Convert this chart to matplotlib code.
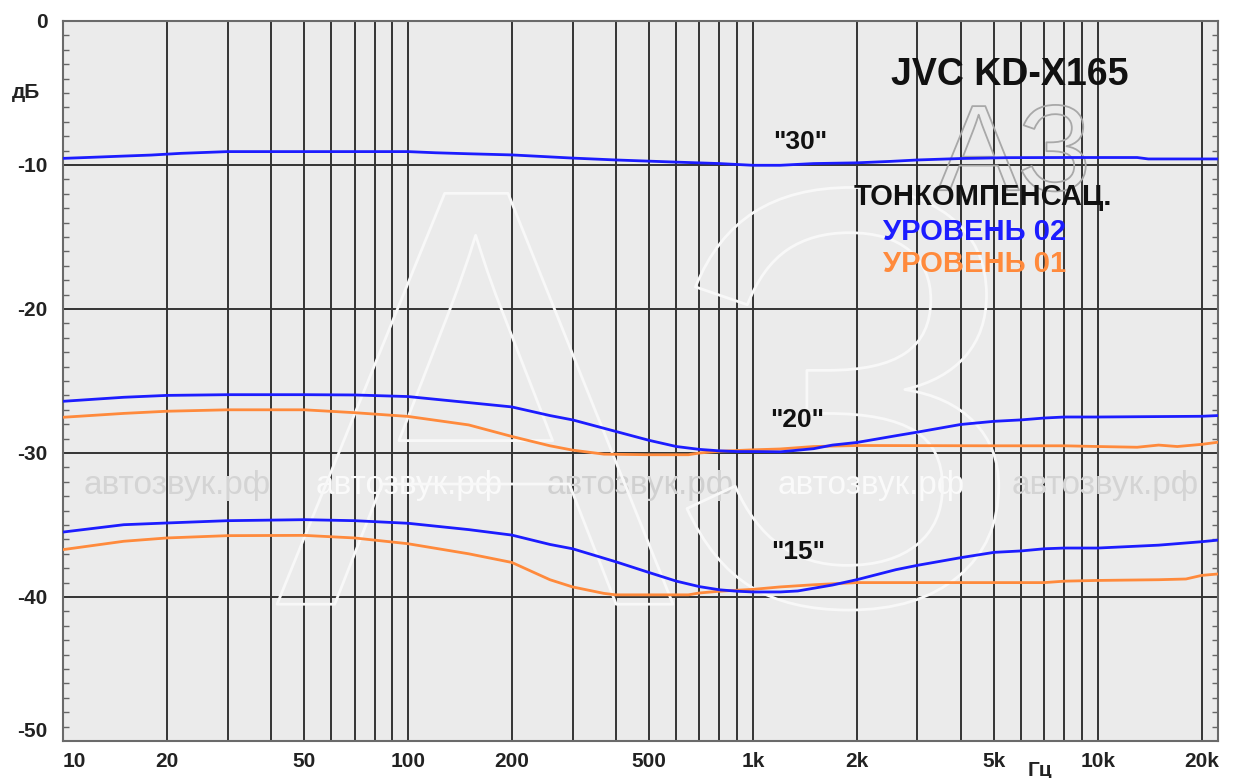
import numpy as np
import matplotlib
matplotlib.use('Agg')
import matplotlib.pyplot as plt
import matplotlib.patheffects as pe
from matplotlib.ticker import FixedLocator, NullFormatter

plt.rcParams['font.family'] = ['Liberation Sans', 'DejaVu Sans']

# --- data (Hz, dB) ---
f30_b = [10, 12, 15, 18, 22, 30, 60, 100, 120, 150, 200, 250, 300, 400, 600, 800,
         1000, 1200, 1500, 2000, 2500, 3000, 4000, 5500, 8000, 13000, 14000, 22300]
db30_b = [-9.54, -9.47, -9.38, -9.31, -9.19, -9.07, -9.07, -9.07, -9.15, -9.22, -9.3, -9.42,
          -9.52, -9.65, -9.8, -9.9, -10.02, -10.02, -9.9, -9.85, -9.75, -9.65, -9.55, -9.49,
          -9.48, -9.48, -9.58, -9.58]

f20_b = [10, 15, 20, 30, 50, 70, 100, 150, 200, 258, 300, 400, 500, 600, 700, 800, 900,
         1000, 1200, 1500, 1700, 2000, 2600, 3000, 4000, 5000, 6000, 7000, 8000, 10000,
         20000, 22300]
db20_b = [-26.41, -26.13, -26.0, -25.95, -25.95, -25.97, -26.08, -26.5, -26.8, -27.4, -27.7,
          -28.5, -29.12, -29.55, -29.75, -29.85, -29.9, -29.9, -29.92, -29.7, -29.45, -29.27,
          -28.8, -28.55, -28.02, -27.8, -27.7, -27.57, -27.5, -27.5, -27.45, -27.4]

f20_o = [10, 15, 20, 30, 50, 70, 100, 150, 200, 258, 300, 370, 500, 650, 700, 800, 1000,
         1200, 1500, 2000, 5000, 8000, 10000, 13000, 15000, 17000, 20000, 22300]
db20_o = [-27.52, -27.25, -27.1, -27.0, -27.0, -27.2, -27.46, -28.05, -28.85, -29.5, -29.8,
          -30.08, -30.12, -30.12, -30.0, -29.88, -29.78, -29.72, -29.55, -29.48, -29.5, -29.5,
          -29.55, -29.6, -29.45, -29.55, -29.4, -29.25]

f15_b = [10, 15, 20, 30, 50, 70, 100, 150, 200, 258, 300, 400, 500, 600, 700, 800, 900,
         1000, 1200, 1350, 1700, 2000, 2600, 3000, 4000, 5000, 6000, 7000, 8000, 10000,
         15000, 20000, 22300]
db15_b = [-35.49, -34.98, -34.86, -34.7, -34.63, -34.7, -34.88, -35.32, -35.7, -36.35, -36.65,
          -37.55, -38.3, -38.9, -39.28, -39.5, -39.6, -39.65, -39.65, -39.58, -39.17, -38.8,
          -38.1, -37.8, -37.27, -36.9, -36.8, -36.65, -36.6, -36.6, -36.4, -36.16, -36.05]

f15_o = [10, 15, 20, 30, 50, 70, 100, 150, 200, 258, 300, 370, 400, 650, 700, 800, 900, 1000,
         1200, 1500, 2000, 7000, 8000, 10000, 15000, 18000, 20000, 22300]
db15_o = [-36.71, -36.13, -35.9, -35.74, -35.72, -35.9, -36.3, -37.0, -37.6, -38.8, -39.3,
          -39.75, -39.85, -39.85, -39.72, -39.6, -39.53, -39.47, -39.3, -39.15, -39.0, -39.0,
          -38.9, -38.85, -38.8, -38.75, -38.5, -38.4]

x_labels_f = [10, 20, 50, 100, 200, 500, 1000, 2000, 5000, 10000, 20000]
x_labels = ['10', '20', '50', '100', '200', '500', '1k', '2k', '5k', '10k', '20k']
grid_f = [20, 30, 40, 50, 60, 70, 80, 90, 100, 200, 300, 400, 500, 600, 700, 800, 900,
          1000, 2000, 3000, 4000, 5000, 6000, 7000, 8000, 9000, 10000, 20000]
y_major = [0, -10, -20, -30, -40, -50]

W, H = 1237, 778
fig = plt.figure(figsize=(W / 100, H / 100), dpi=100)
ax = fig.add_axes([63 / W, 1 - 741 / H, (1218 - 63) / W, (741 - 21) / H])
ax.set_facecolor('#ebebeb')

ax.set_xscale('log')
ax.set_xlim(10, 22300)
ax.set_ylim(-50, 0)

# grid
for f in grid_f:
    ax.axvline(f, color='#333333', lw=1.4, zorder=1)
for y in [-10, -20, -30, -40]:
    ax.axhline(y, color='#333333', lw=1.4, zorder=1)

# watermark
for xf, c in zip([0.099, 0.30, 0.50, 0.70, 0.902],
                 ['#d4d4d4', '#fafafa', '#d0d0d0', '#fafafa', '#d4d4d4']):
    ax.text(xf, 0.355, 'автозвук.рф', transform=ax.transAxes, ha='center', va='center',
            fontsize=24, color=c, zorder=1.5)
big = ax.text(0.51, 0.19, 'АЗ', transform=ax.transAxes, ha='center', va='baseline',
              fontsize=430, color='none', zorder=1.6)
big.set_path_effects([pe.Stroke(linewidth=2, foreground='#f8f8f8')])
small = ax.text(0.824, 0.765, 'АЗ', transform=ax.transAxes, ha='center', va='baseline',
                fontsize=88, color='none', zorder=1.6)
small.set_path_effects([pe.Stroke(linewidth=1.3, foreground='#a8a8a8')])

blue = '#1c1cff'
orange = '#ff8a3c'
ax.plot(f30_b, db30_b, color=blue, lw=2, zorder=3)
ax.plot(f20_o, db20_o, color=orange, lw=2, zorder=3)
ax.plot(f20_b, db20_b, color=blue, lw=2, zorder=3)
ax.plot(f15_o, db15_o, color=orange, lw=2, zorder=3)
ax.plot(f15_b, db15_b, color=blue, lw=2, zorder=3)

# ticks
ax.set_xticks(x_labels_f)
ax.set_xticklabels(x_labels)
ax.xaxis.set_minor_locator(FixedLocator([]))
ax.xaxis.set_minor_formatter(NullFormatter())
ax.tick_params(axis='x', length=0, pad=8, labelsize=15, labelcolor='#222222')
for lab in ax.get_xticklabels():
    lab.set_fontweight('bold')
ax.get_xticklabels()[0].set_ha('left')

ax.set_yticks(y_major)
ax.set_yticklabels([str(v) for v in y_major])
ax.yaxis.set_minor_locator(FixedLocator(np.arange(-49, 0, 1)))
ax.tick_params(axis='y', which='major', length=0, pad=11, labelsize=15, labelcolor='#222222')
ax.tick_params(axis='y', which='minor', direction='in', length=4, width=1, color='#666666',
               left=True, right=True)
for lab in ax.get_yticklabels():
    lab.set_fontweight('bold')
ax.get_yticklabels()[-1].set_va('bottom')

for s in ax.spines.values():
    s.set_color('#6a6a6a')
    s.set_linewidth(1.5)

# annotations
ax.text(5560, -3.75, 'JVC KD-X165', ha='center', va='center', fontsize=27, fontweight='bold',
        color='#111111', zorder=4)
ax.text(1368, -8.4, '"30"', ha='center', va='center', fontsize=19, fontweight='bold',
        color='#111111', zorder=4)
ax.text(1340, -27.7, '"20"', ha='center', va='center', fontsize=19, fontweight='bold',
        color='#111111', zorder=4)
ax.text(1350, -36.9, '"15"', ha='center', va='center', fontsize=19, fontweight='bold',
        color='#111111', zorder=4)
ax.text(4640, -12.2, 'ТОНКОМПЕНСАЦ.', ha='center', va='center', fontsize=21, fontweight='bold',
        color='#111111', zorder=4)
ax.text(4400, -14.65, 'УРОВЕНЬ 02', ha='center', va='center', fontsize=21, fontweight='bold',
        color=blue, zorder=4)
ax.text(4400, -16.9, 'УРОВЕНЬ 01', ha='center', va='center', fontsize=21, fontweight='bold',
        color=orange, zorder=4)

fig.text(26 / W, 1 - 92 / H, 'дБ', ha='center', va='center', fontsize=15, fontweight='bold',
         color='#222222')
fig.text(1040 / W, 1 - 770 / H, 'Гц', ha='center', va='center', fontsize=15, fontweight='bold',
         color='#222222')

fig.savefig('out.png', dpi=100, facecolor='white')
